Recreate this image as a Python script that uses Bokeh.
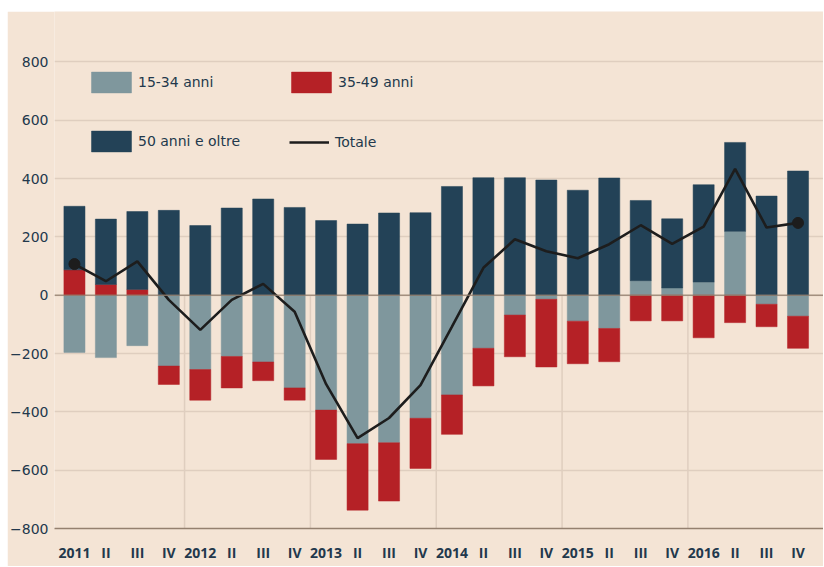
from bokeh.plotting import figure
from bokeh.models import (Range1d, FixedTicker, Legend, LegendItem, Span, ColumnDataSource)
from bokeh.embed import file_html
from bokeh.resources import INLINE

# ---- data ----
quarters = ["2011", "II", "III", "IV", "2012", "II", "III", "IV",
            "2013", "II", "III", "IV", "2014", "II", "III", "IV",
            "2015", "II", "III", "IV", "2016", "II", "III", "IV"]
age_15_34 = [-196, -214, -173, -243, -255, -210, -229, -318, -394, -509, -506, -422,
             -342, -182, -68, -14, -89, -114, 50, 25, 45, 219, -31, -72]
age_35_49 = [87, 37, 20, -63, -105, -108, -64, -42, -169, -228, -200, -172,
             -135, -129, -143, -232, -146, -114, -88, -88, -146, -94, -77, -110]
age_50_plus = [218, 224, 267, 291, 239, 299, 330, 301, 256, 244, 282, 283,
               373, 403, 403, 395, 360, 402, 275, 237, 334, 305, 340, 426]
totale = [107, 48, 116, -16, -119, -16, 39, -57, -305, -490, -421, -308,
          -108, 94, 192, 151, 127, 175, 240, 176, 235, 433, 232, 248]
y_ticks = [-800, -600, -400, -200, 0, 200, 400, 600, 800]

names = ["15-34 anni", "35-49 anni", "50 anni e oltre"]
series = [age_15_34, age_35_49, age_50_plus]
colors = ["#7F979D", "#B52126", "#234257"]

BG = "#F4E4D5"
TXT = "#22384C"
GRID = "#DFCEBF"
AXIS = "#94806F"
FONT = "DejaVu Sans"
XFONT = "Open Sans"

xs = list(range(len(quarters)))

# stacking (positive up, negative down)
pos = [0.0] * len(xs)
neg = [0.0] * len(xs)
stacks = []
for vals in series:
    bottoms, tops = [], []
    for i, v in enumerate(vals):
        if v >= 0:
            bottoms.append(pos[i]); tops.append(pos[i] + v); pos[i] += v
        else:
            tops.append(neg[i]); bottoms.append(neg[i] + v); neg[i] += v
    stacks.append((bottoms, tops))

p = figure(width=816, height=555, output_backend="svg", toolbar_location=None,
           x_range=Range1d(-0.634, 23.81), y_range=Range1d(-800, 973),
           min_border_left=45, min_border_right=0, min_border_top=0, min_border_bottom=38)
p.margin = (11, 0, 0, 7)
p.background_fill_color = BG
p.border_fill_color = BG
p.outline_line_color = None

# vertical year separators (negative area only)
seps = [i - 0.5 for i, q in enumerate(quarters) if q.isdigit() and i > 0]
p.segment(x0=seps, x1=seps, y0=[y_ticks[0]] * len(seps), y1=[0] * len(seps),
          line_color=GRID, line_width=1.5, level="underlay")

renderers = []
for (b, t), c in zip(stacks, colors):
    src = ColumnDataSource(dict(x=xs, bottom=b, top=t))
    r = p.vbar(x="x", bottom="bottom", top="top", width=0.67, source=src,
               fill_color=c, line_color=c, line_width=0.5)
    renderers.append(r)

p.add_layout(Span(location=0, dimension="width", line_color=AXIS, line_width=1.5, line_alpha=0.8))

lr = p.line(xs, totale, line_color="#1D1D1D", line_width=2.6)
p.scatter([xs[0], xs[-1]], [totale[0], totale[-1]], size=11, fill_color="#1D1D1D", line_color="#1D1D1D")

# axes
p.yaxis.ticker = FixedTicker(ticks=y_ticks)
p.yaxis.axis_line_color = None
p.yaxis.major_tick_line_color = None
p.yaxis.minor_tick_line_color = None
p.yaxis.major_tick_out = 0
p.yaxis.major_tick_in = 0
p.yaxis.minor_tick_out = 0
p.yaxis.major_label_standoff = 6
p.yaxis.major_label_text_font = FONT
p.yaxis.major_label_text_font_size = "14px"
p.yaxis.major_label_text_color = TXT

p.xaxis.ticker = FixedTicker(ticks=xs)
p.xaxis.major_label_overrides = {i: q for i, q in enumerate(quarters)}
p.xaxis.axis_line_color = AXIS
p.xaxis.axis_line_width = 1.5
p.xaxis.major_tick_line_color = None
p.xaxis.minor_tick_line_color = None
p.xaxis.major_tick_out = 0
p.xaxis.major_tick_in = 0
p.xaxis.minor_tick_out = 0
p.xaxis.major_label_standoff = 14
p.xaxis.major_label_text_font = XFONT
p.xaxis.major_label_text_font_size = "14px"
p.xaxis.major_label_text_font_style = "bold"
p.xaxis.major_label_text_color = TXT

p.xgrid.grid_line_color = None
p.ygrid.ticker = FixedTicker(ticks=y_ticks)
p.ygrid.grid_line_color = GRID
p.ygrid.grid_line_width = 1.5

def mk_legend(label, rend, loc, gw, gh, standoff):
    lg = Legend(items=[LegendItem(label=label, renderers=[rend])], location=loc,
                orientation="vertical", spacing=0, glyph_width=gw, glyph_height=gh,
                label_standoff=standoff, padding=0, margin=0, border_line_color=None,
                background_fill_alpha=0, label_text_font=FONT, label_text_font_size="14px",
                label_text_color=TXT, label_height=gh)
    p.add_layout(lg)

mk_legend(names[0], renderers[0], (32, 432.6), 50, 26, 2)
mk_legend(names[2], renderers[2], (32, 373.6), 50, 26, 2)
mk_legend(names[1], renderers[1], (232, 432.6), 50, 26, 2)
mk_legend("Totale", lr, (235, 376), 40, 20, 6)

open("out.html", "w").write(file_html(p, INLINE))
